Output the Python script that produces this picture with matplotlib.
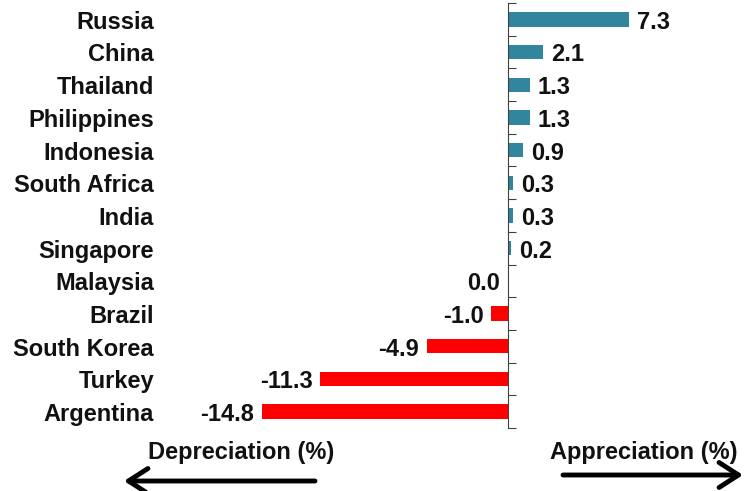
import matplotlib
matplotlib.use("Agg")
import matplotlib.pyplot as plt
from matplotlib.transforms import blended_transform_factory, offset_copy
import numpy as np

countries = ["Russia", "China", "Thailand", "Philippines", "Indonesia", "South Africa",
             "India", "Singapore", "Malaysia", "Brazil", "South Korea", "Turkey", "Argentina"]
values = [7.3, 2.1, 1.3, 1.3, 0.9, 0.3, 0.3, 0.2, 0.0, -1.0, -4.9, -11.3, -14.8]
value_labels = ["7.3", "2.1", "1.3", "1.3", "0.9", "0.3", "0.3", "0.2", "0.0",
                "-1.0", "-4.9", "-11.3", "-14.8"]

TEAL = "#31859C"
RED = "#FF0000"
FONT = "Liberation Sans"
FS = 17
TXT = "#111111"

W, H = 746, 491
fig = plt.figure(figsize=(W / 100, H / 100), dpi=100)
ax_left_px, ax_right_px = 165, 746
ax_top_px, ax_bot_px = 3, 428
ax = fig.add_axes([ax_left_px / W, 1 - ax_bot_px / H,
                   (ax_right_px - ax_left_px) / W, (ax_bot_px - ax_top_px) / H])

zero_px = 508
scale = 16.6
ax.set_xlim((ax_left_px - zero_px) / scale, (ax_right_px - zero_px) / scale)
n = len(countries)
ax.set_ylim(n - 0.5, -0.5)

y = np.arange(n)
colors = [TEAL if v > 0 else RED for v in values]
ax.barh(y, values, height=0.44, color=colors, zorder=2)

for spine in ["top", "right", "bottom"]:
    ax.spines[spine].set_visible(False)
ax.spines["left"].set_position(("data", 0))
ax.spines["left"].set_color("#404040")
ax.spines["left"].set_linewidth(0.8)
ax.set_xticks([])
ax.set_yticks([])
ax.set_yticks(np.arange(-0.5, n, 1.0), minor=True)
ax.tick_params(axis="y", which="minor", direction="in", length=6, width=0.8,
               color="#404040", labelleft=False)

# baseline placed slightly below bar centre so cap letters are centred on bar
data_tr = offset_copy(ax.transData, fig=fig, x=0, y=-6.8, units="points")
off = 8 / scale
for yi, v, lab in zip(y, values, value_labels):
    if v > 0:
        ax.text(v + off, yi, lab, ha="left", va="baseline", fontsize=FS,
                fontweight="bold", family=FONT, color=TXT, transform=data_tr)
    else:
        ax.text(v - off, yi, lab, ha="right", va="baseline", fontsize=FS,
                fontweight="bold", family=FONT, color=TXT, transform=data_tr)

trans = offset_copy(blended_transform_factory(fig.transFigure, ax.transData),
                    fig=fig, x=0, y=-6.8, units="points")
for yi, c in zip(y, countries):
    ax.text(154 / W, yi, c, transform=trans, ha="right", va="baseline",
            fontsize=FS, fontweight="bold", family=FONT, color=TXT,
            clip_on=False)

fig.text(241 / W, 1 - 452 / H, "Depreciation (%)", ha="center", va="center",
         fontsize=FS, fontweight="bold", family=FONT, color=TXT)
fig.text(644 / W, 1 - 452 / H, "Appreciation (%)", ha="center", va="center",
         fontsize=FS, fontweight="bold", family=FONT, color=TXT)

arrow_kw = dict(arrowstyle="->,head_length=0.7,head_width=0.45", lw=3.5, color="black",
                shrinkA=0, shrinkB=0)
fig.add_artist(matplotlib.patches.FancyArrowPatch(
    (315 / W, 1 - 481 / H), (124 / W, 1 - 481 / H), transform=fig.transFigure,
    mutation_scale=20, **arrow_kw))
fig.add_artist(matplotlib.patches.FancyArrowPatch(
    (563 / W, 1 - 475 / H), (743 / W, 1 - 475 / H), transform=fig.transFigure,
    mutation_scale=20, **arrow_kw))

fig.savefig("out.png", dpi=100)
